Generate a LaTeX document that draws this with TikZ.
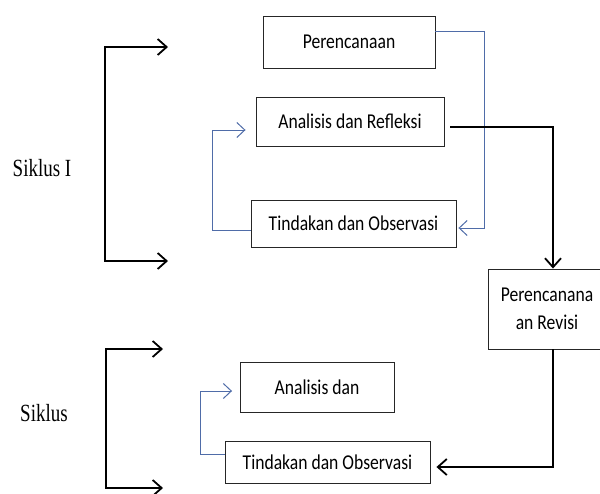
\documentclass[tikz,border=0pt]{standalone}
\usepackage{graphicx}
\usepackage{fontspec}
\setmainfont{Carlito}
\newfontfamily\serifsk{Liberation Serif}
\usetikzlibrary{arrows.meta}
\definecolor{lblue}{RGB}{79,108,168}
\newcommand{\tallbox}[1]{\scalebox{1}[1.2]{#1}}
\newcommand{\tallser}[1]{\scalebox{1}[1.3]{#1}}
\begin{document}
\begin{tikzpicture}[x=1pt,y=-1pt,
  box/.style={draw=black!85, line width=0.9pt, inner sep=0pt, font=\fontsize{17.6}{28.3}\selectfont, align=center},
  bline/.style={draw=lblue, line width=1pt, -{Straight Barb[length=8pt,width=15pt]}},
  kline/.style={draw=black, line width=1.8pt, -{Straight Barb[length=9pt,width=16pt]}},
  brack/.style={draw=black, line width=1.8pt, {Straight Barb[length=9pt,width=16pt]}-{Straight Barb[length=9pt,width=16pt]}},
  lab/.style={font=\serifsk\fontsize{19}{22}\selectfont, inner sep=0pt}]
\useasboundingbox (0,0) rectangle (600,493);
% boxes
\node[box, minimum width=172pt, minimum height=52pt] (P1) at (349,42) {\tallbox{Perencanaan}};
\node[box, minimum width=188pt, minimum height=49pt] (A1) at (350,121.5) {\tallbox{Analisis dan Refleksi}};
\node[box, minimum width=205pt, minimum height=47pt] (T1) at (353.5,223.5) {\tallbox{Tindakan dan Observasi}};
\node[box, minimum width=118pt, minimum height=80pt] (PR) at (547,309) {\tallbox{Perencanana}\\\tallbox{an Revisi}};
\node[box, minimum width=154pt, minimum height=50pt] (A2) at (317,387) {\tallbox{Analisis dan}};
\node[box, minimum width=205pt, minimum height=42pt] (T2) at (327.5,462.5) {\tallbox{Tindakan dan Observasi}};
% labels
\node[lab] (S1) at (42,168) {\tallser{Siklus I}};
\node[lab] (S2) at (44,413) {\tallser{Siklus}};
% bracket coordinates
\coordinate (b1a) at (168,47);
\coordinate (b1t) at (105,47);
\coordinate (b1b) at (105,261);
\coordinate (b1c) at (168,261);
\coordinate (b2a) at (163,349);
\coordinate (b2t) at (106,349);
\coordinate (b2b) at (106,488);
\coordinate (b2c) at (163,488);
\draw[brack] (b1a) -- (b1t) -- (b1b) -- (b1c);
\draw[brack] (b2a) -- (b2t) -- (b2b) -- (b2c);
% blue connectors
\draw[bline] ([yshift=11pt]P1.east) -- (484,31) -- (484,228) -- ([xshift=2pt,yshift=-4.5pt]T1.east);
\draw[bline] ([yshift=-6.5pt]T1.west) -- (212,230) -- (212,130) -- ([xshift=-10pt,yshift=-8.5pt]A1.west);
\draw[bline] ([yshift=8.5pt]T2.west) -- (200,454) -- (200,391) -- ([xshift=-7.5pt,yshift=-4pt]A2.west);
% black connectors
\draw[kline] ([xshift=6pt,yshift=-5.5pt]A1.east) -| ([xshift=6pt]PR.north);
\draw[kline] ([xshift=6pt]PR.south) |- ([xshift=6pt,yshift=-4.5pt]T2.east);
\end{tikzpicture}
\end{document}
